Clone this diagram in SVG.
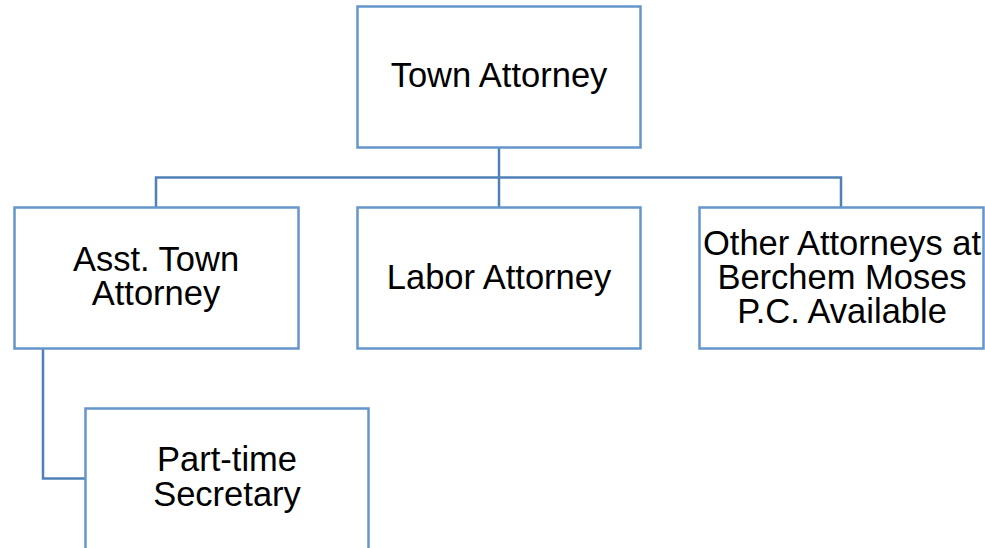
<svg xmlns="http://www.w3.org/2000/svg" width="985" height="548" viewBox="0 0 985 548">
<style>
.box{fill:#ffffff;stroke:#6496cb;stroke-width:2.5}
.lbl{font-family:"Liberation Sans",Arial,sans-serif;font-size:34.5px;fill:#000;text-anchor:middle}
.con{fill:none;stroke:#4f81b9;stroke-width:2.5}
</style>
<rect width="985" height="548" fill="#ffffff"/>
<g id="connectors">
<path class="con" d="M499 147V207"/>
<path class="con" d="M156 207V177.5H841V207"/>
<path class="con" d="M43 349V478.5H85"/>
</g>
<g id="town-attorney">
<rect class="box" x="357.5" y="6.5" width="283" height="141"/>
<text class="lbl" x="499" y="87">Town Attorney</text>
</g>
<g id="asst-town-attorney">
<rect class="box" x="14.5" y="207.5" width="284" height="141"/>
<text class="lbl" x="156" y="271">Asst. Town</text>
<text class="lbl" x="156" y="305">Attorney</text>
</g>
<g id="labor-attorney">
<rect class="box" x="357.5" y="207.5" width="283" height="141"/>
<text class="lbl" x="499" y="289">Labor Attorney</text>
</g>
<g id="other-attorneys">
<rect class="box" x="699.5" y="207.5" width="284" height="141"/>
<text class="lbl" x="842" y="255">Other Attorneys at</text>
<text class="lbl" x="842" y="289">Berchem Moses</text>
<text class="lbl" x="842" y="323">P.C. Available</text>
</g>
<g id="part-time-secretary">
<rect class="box" x="85.5" y="408.5" width="283" height="160"/>
<text class="lbl" x="227" y="471">Part-time</text>
<text class="lbl" x="227" y="506">Secretary</text>
</g>
</svg>
